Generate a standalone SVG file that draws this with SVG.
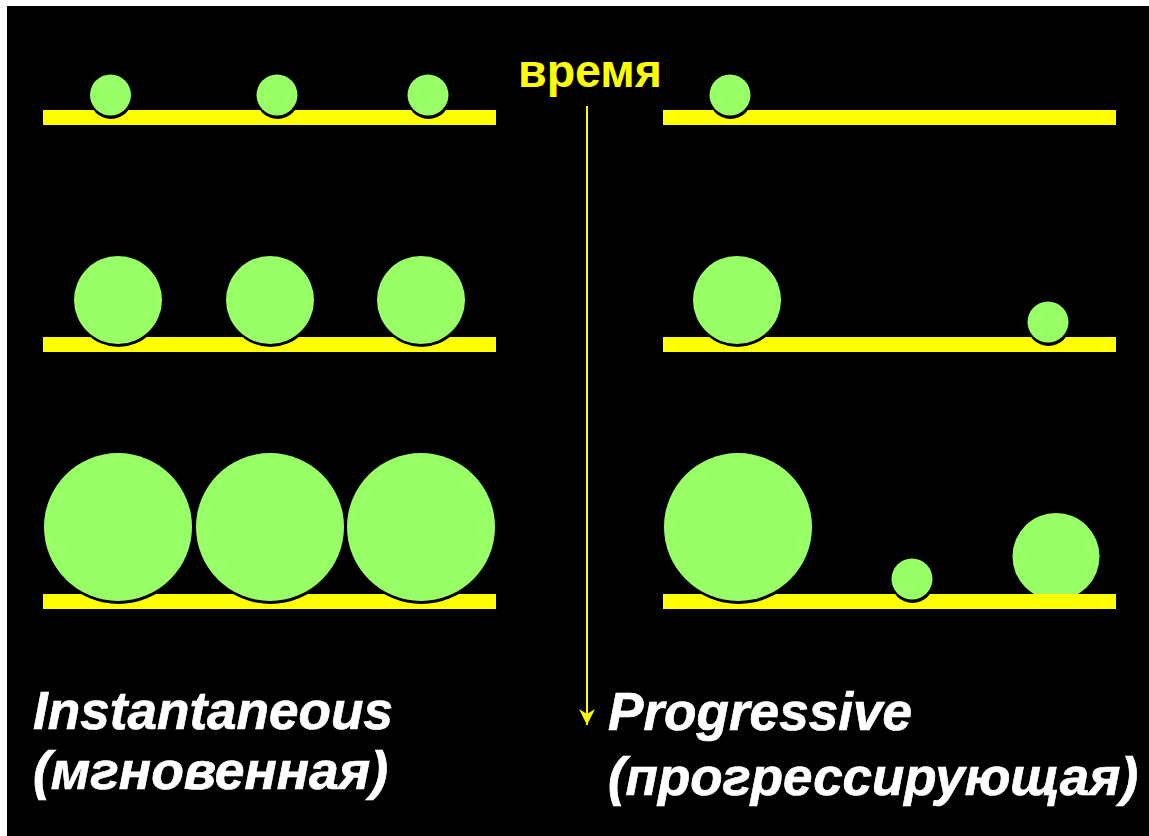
<svg xmlns="http://www.w3.org/2000/svg" width="1149" height="836" viewBox="0 0 1149 836">
  <defs>
    <style>
      .bar { fill: #FFFF00; }
      .ball { fill: #99FF66; }
      .sh { fill: #000000; }
      .t { font-family: "Liberation Sans", Arial, sans-serif; font-weight: bold; }
      .lbl { fill: #FFFFFF; stroke: #FFFFFF; stroke-width: 0.7px; font-style: italic; font-size: 53px; }
      .time { fill: #FFFF00; font-size: 46px; }
    </style>
    <marker id="ah" viewBox="0 0 16 16" markerWidth="16" markerHeight="16" refX="16" refY="8" orient="auto" markerUnits="userSpaceOnUse">
      <path d="M0,0 L16,8 L0,16 L5,8 Z" fill="#FFFF00"/>
    </marker>
  </defs>
  <rect x="0" y="0" width="1149" height="836" fill="#FFFFFF"/>
  <rect x="7" y="6" width="1142" height="830" fill="#000000"/>

  <!-- row 1 -->
  <g id="bar-l1"><rect class="bar" x="43" y="110" width="453" height="15"/></g>
  <g id="bar-r1"><rect class="bar" x="663" y="110" width="453" height="15"/></g>
  <g id="ball-l1a"><circle class="sh" cx="111" cy="97.5" r="21.5"/><circle class="ball" cx="110.5" cy="95" r="20.5"/></g>
  <g id="ball-l1b"><circle class="sh" cx="277.5" cy="97.5" r="21.5"/><circle class="ball" cx="277" cy="95" r="20.5"/></g>
  <g id="ball-l1c"><circle class="sh" cx="428.5" cy="97.5" r="21.5"/><circle class="ball" cx="428" cy="95" r="20.5"/></g>
  <g id="ball-r1a"><circle class="sh" cx="730.5" cy="97.5" r="21.5"/><circle class="ball" cx="730" cy="95" r="20.5"/></g>

  <!-- row 2 -->
  <g id="bar-l2"><rect class="bar" x="43" y="337" width="453" height="15"/></g>
  <g id="bar-r2"><rect class="bar" x="663" y="337" width="453" height="15"/></g>
  <g id="ball-l2a"><circle class="sh" cx="118.5" cy="302.5" r="44.5"/><circle class="ball" cx="118" cy="300" r="44"/></g>
  <g id="ball-l2b"><circle class="sh" cx="270.5" cy="302.5" r="44.5"/><circle class="ball" cx="270" cy="300" r="44"/></g>
  <g id="ball-l2c"><circle class="sh" cx="421.5" cy="302.5" r="44.5"/><circle class="ball" cx="421" cy="300" r="44"/></g>
  <g id="ball-r2a"><circle class="sh" cx="737.5" cy="302.5" r="44.5"/><circle class="ball" cx="737" cy="300" r="44"/></g>
  <g id="ball-r2b"><circle class="sh" cx="1048.5" cy="324.5" r="21.5"/><circle class="ball" cx="1048" cy="322" r="20.5"/></g>

  <!-- row 3 -->
  <g id="ball-r3c"><circle class="ball" cx="1056" cy="556.5" r="43.5"/></g>
  <g id="bar-l3"><rect class="bar" x="43" y="594" width="453" height="15"/></g>
  <g id="bar-r3"><rect class="bar" x="663" y="594" width="453" height="15"/></g>
  <g id="ball-l3a"><circle class="sh" cx="118.5" cy="529.5" r="74.5"/><circle class="ball" cx="118" cy="527" r="74"/></g>
  <g id="ball-l3b"><circle class="sh" cx="270.5" cy="529.5" r="74.5"/><circle class="ball" cx="270" cy="527" r="74"/></g>
  <g id="ball-l3c"><circle class="sh" cx="421.5" cy="529.5" r="74.5"/><circle class="ball" cx="421" cy="527" r="74"/></g>
  <g id="ball-r3a"><circle class="sh" cx="738.5" cy="529.5" r="74.5"/><circle class="ball" cx="738" cy="527" r="74"/></g>
  <g id="ball-r3b"><circle class="sh" cx="912.5" cy="581.5" r="21.5"/><circle class="ball" cx="912" cy="579" r="20.5"/></g>

  <!-- connectors -->
  <g id="connectors">
    <line x1="587" y1="106" x2="587" y2="725" stroke="#FFFF00" stroke-width="2" marker-end="url(#ah)"/>
  </g>

  <!-- labels -->
  <g id="label-time"><text class="t time" x="590" y="87" text-anchor="middle" textLength="144" lengthAdjust="spacingAndGlyphs">время</text></g>
  <g id="label-instant">
    <text class="t lbl" x="33" y="729" textLength="360" lengthAdjust="spacingAndGlyphs">Instantaneous</text>
    <text class="t lbl" x="33" y="789" textLength="355" lengthAdjust="spacingAndGlyphs">(мгновенная)</text>
  </g>
  <g id="label-progressive">
    <text class="t lbl" x="608" y="730" textLength="304" lengthAdjust="spacingAndGlyphs">Progressive</text>
    <text class="t lbl" x="608" y="795" textLength="530" lengthAdjust="spacingAndGlyphs">(прогрессирующая)</text>
  </g>
</svg>
